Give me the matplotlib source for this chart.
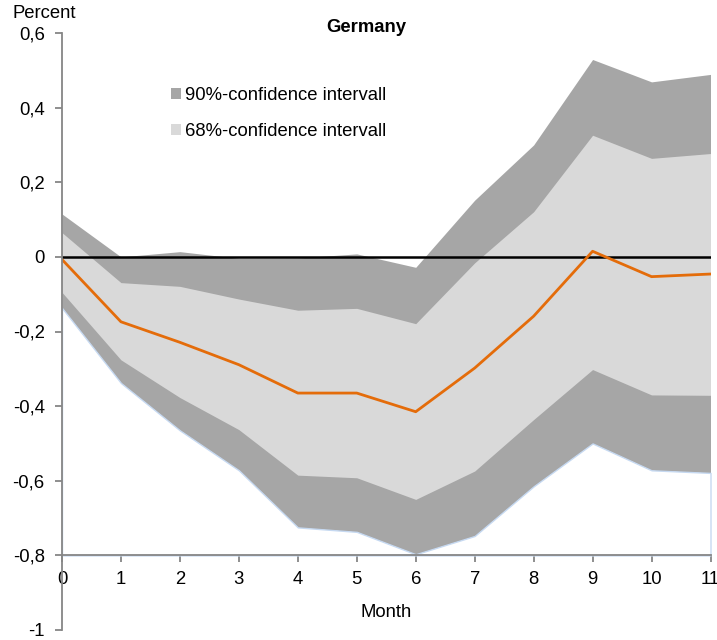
import matplotlib
matplotlib.use("Agg")
import matplotlib.pyplot as plt
from matplotlib.patches import Patch

plt.rcParams['font.family'] = ['Liberation Sans', 'DejaVu Sans']

months = list(range(12))
median = [-0.007, -0.174, -0.229, -0.289, -0.365, -0.365, -0.415, -0.298, -0.159, 0.015, -0.053, -0.046]
hi68 = [0.065, -0.069, -0.079, -0.113, -0.143, -0.138, -0.179, -0.016, 0.121, 0.326, 0.264, 0.277]
lo68 = [-0.095, -0.276, -0.377, -0.463, -0.585, -0.592, -0.650, -0.574, -0.436, -0.302, -0.370, -0.371]
hi90 = [0.115, 0.000, 0.014, -0.004, -0.003, 0.008, -0.028, 0.152, 0.300, 0.529, 0.469, 0.489]
lo90 = [-0.137, -0.338, -0.465, -0.572, -0.725, -0.737, -0.797, -0.748, -0.615, -0.500, -0.572, -0.579]
yticks = [-1, -0.8, -0.6, -0.4, -0.2, 0, 0.2, 0.4, 0.6]
ytick_labels = ["-1", "-0,8", "-0,6", "-0,4", "-0,2", "0", "0,2", "0,4", "0,6"]
xticks = list(range(12))

W, H = 717, 640
FS = 13.3
fig = plt.figure(figsize=(W / 100, H / 100), dpi=100)
ax = fig.add_axes([62 / W, 1 - 630 / H, (710.5 - 62) / W, (630 - 33) / H])

dark = '#A6A6A6'
light = '#D9D9D9'
orange = '#E46C0A'
spine_c = '#868686'

ax.fill_between(months, lo90, hi90, color=dark, lw=0, zorder=1)
ax.fill_between(months, lo68, hi68, color=light, lw=0, zorder=2)
ax.fill_between(months, -0.8, lo90, facecolor='white', edgecolor='#C6D9F1', lw=1.0, zorder=2.5)
ax.axhline(0, color='black', lw=1.8, zorder=3)
ax.plot(months, median, color=orange, lw=2.0, zorder=4)

ax.set_xlim(0, 11)
ax.set_ylim(-1, 0.6)
ax.set_yticks(yticks)
ax.set_yticklabels(ytick_labels)
ax.set_xticks(xticks)
ax.set_xticklabels([str(m) for m in xticks])

for s in ['top', 'right']:
    ax.spines[s].set_visible(False)
ax.spines['bottom'].set_position(('data', -0.8))
for s in ['left', 'bottom']:
    ax.spines[s].set_color(spine_c)
    ax.spines[s].set_linewidth(1.3)
    ax.spines[s].set_zorder(5)
ax.tick_params(axis='both', direction='out', length=5, width=1.3, color=spine_c,
               labelsize=FS, labelcolor='black')
ax.tick_params(axis='x', pad=6)
ax.tick_params(axis='y', pad=7.5)
ax.patch.set_visible(False)

fig.text(13 / W, 1 - 13 / H, 'Percent', fontsize=FS, ha='left', va='center')
fig.text(366.5 / W, 1 - 27.5 / H, 'Germany', fontsize=FS, fontweight='bold', ha='center', va='center')
ax.text(5.5, -0.952, 'Month', fontsize=FS, ha='center', va='center')

handles = [Patch(facecolor=dark, edgecolor='none', label='90%-confidence intervall'),
           Patch(facecolor=light, edgecolor='none', label='68%-confidence intervall')]
ax.legend(handles=handles, loc='upper left', bbox_to_anchor=(171 / W, 1 - 87 / H),
          bbox_transform=fig.transFigure, frameon=False, fontsize=FS, borderpad=0,
          borderaxespad=0, handlelength=0.52, handleheight=0.52, handletextpad=0.22,
          labelspacing=1.05)

fig.savefig('out.png', dpi=100)
